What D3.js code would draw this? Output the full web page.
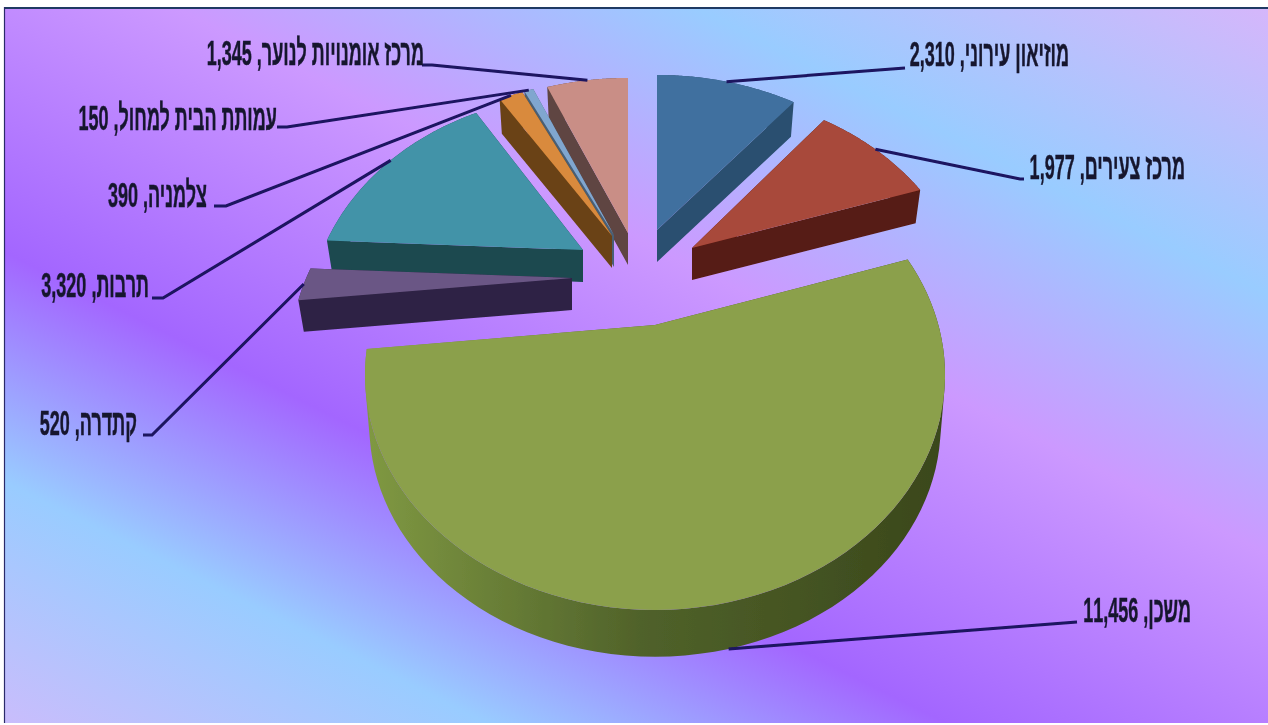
<!DOCTYPE html>
<html><head><meta charset="utf-8">
<script src="https://cdnjs.cloudflare.com/ajax/libs/d3/7.8.5/d3.min.js"></script>
<style>html,body{margin:0;padding:0;background:#fff;overflow:hidden}svg{display:block}</style>
</head><body><svg id="c" width="1268" height="725"></svg>
<script>
const categories=["מוזיאון עירוני","מרכז צעירים","משכן","קתדרה","תרבות","צלמניה","עמותת הבית למחול","מרכז אומנויות לנוער"];
const values=[2310,1977,11456,520,3320,390,150,1345];
const topColors=["#41709f","#a8483b","#8ba04b","#6b5785","#4393a8","#d98a3c","#80a6cf","#c98e86"];
const wallColors=["#2b4f70","#561a12","url(#greenWall)","#2e2245","#1b4850","#6b4216","#4a5e74","#5e4442"];
// how far each slice is pulled out of the pie, in px, and how much narrower it is drawn
const explodeX=[2,37,0,-83,-72,-43,-41,-27];
const explodeY=[-95,-77,0,-47,-75,-89,-90,-92];
const narrowX=[1,0.965,1,0.97,0.95,1,1,1];
// order slices are painted in (far to near)
const paintOrder=[7,0,6,5,1,4,3,2];
// label right edge, baseline, leader elbow
const labelRight=[1069,1185,1191,137,149,207,277,424];
const labelBase=[66,179,622,435,297,207,130,65];
const elbowX=[905,1020,1077,152,163,226,287,432];
const elbowY=[68,179,622,435,298,206,127,65];
const elbowEndX=[905,1024,1077,143,152,214,277,422];
// camera for the small exploded slices and for the large near slice
const farView={a:274,b:205.6,p:0.326,drop:32,shrink:0.98};
const nearView={a:283.4,b:224.4,p:0.2126,drop:51,shrink:0.985};
const viewOf=i=>i===2?nearView:farView;

const W=1268,H=725,cx=655,cy=325;
const svg=d3.select("#c");
const defs=svg.append("defs");
const nx=-0.447,ny=0.894,tmid=45,k=1.118,tA=-630,tB=720;
const gx=t=>634+nx*(t-tmid)/k, gy=t=>362+ny*(t-tmid)/k;
const bg=defs.append("linearGradient").attr("id","bg").attr("gradientUnits","userSpaceOnUse")
 .attr("x1",gx(tA)).attr("y1",gy(tA)).attr("x2",gx(tB)).attr("y2",gy(tB));
[[-630,"#d6b6fb"],[-340,"#99ccff"],[-80,"#cc99ff"],[250,"#a366ff"],[480,"#99ccff"],[720,"#c9bdfc"]]
 .forEach(([t,c])=>bg.append("stop").attr("offset",(t-tA)/(tB-tA)).attr("stop-color",c));
const gw=defs.append("linearGradient").attr("id","greenWall").attr("gradientUnits","userSpaceOnUse")
 .attr("x1",370).attr("y1",0).attr("x2",945).attr("y2",0);
gw.append("stop").attr("offset",0).attr("stop-color","#7f9842");
gw.append("stop").attr("offset",0.47).attr("stop-color","#50622a");
gw.append("stop").attr("offset",1).attr("stop-color","#3a471b");
const blur=defs.append("filter").attr("id","soft").attr("x","-5%").attr("y","-5%").attr("width","110%").attr("height","110%");
blur.append("feGaussianBlur").attr("stdDeviation",0.6);

svg.append("rect").attr("x",4).attr("y",7).attr("width",W-4).attr("height",H-9).attr("fill","url(#bg)");
svg.append("line").attr("x1",4).attr("x2",W).attr("y1",8).attr("y2",8).attr("stroke","#1f3a63").attr("stroke-width",2);
svg.append("line").attr("x1",4.5).attr("x2",4.5).attr("y1",7).attr("y2",H-2).attr("stroke","#2a2a6a").attr("stroke-width",1.2);

const arcs=d3.pie().sort(null).value(d=>d)(values);
function project(theta,i){
  const w=viewOf(i),u=Math.sin(theta),v=-Math.cos(theta),den=1-w.p*v;
  return [w.a*u/den*narrowX[i],w.b*v/den];
}
const toTop=(p,i)=>[cx+explodeX[i]+p[0],cy+explodeY[i]+p[1]];
const toBot=(p,i)=>{const w=viewOf(i);return [cx+explodeX[i]+p[0]*w.shrink,cy+explodeY[i]+w.drop+p[1]*w.shrink];};
const line=d3.line();
const root=svg.append("g").attr("filter","url(#soft)");

paintOrder.forEach(i=>{
  const a=arcs[i];
  const ang=d3.range(0,81).map(j=>a.startAngle+(a.endAngle-a.startAngle)*j/80);
  const outline=[[0,0],...ang.map(t=>project(t,i))];
  const g=root.append("g");
  // the side wall: one path, every quad wound the same way so they merge without seams
  const quads=outline.map((p,j)=>{
    const q=outline[(j+1)%outline.length];
    const poly=[toTop(p,i),toTop(q,i),toBot(q,i),toBot(p,i)];
    if(d3.polygonArea(poly)<0)poly.reverse();
    return line(poly)+"Z";
  }).join("");
  g.append("path").attr("d",quads).attr("fill",wallColors[i]).attr("fill-rule","nonzero");
  g.append("path").attr("d",line(outline.map(p=>toTop(p,i)))+"Z").attr("fill",topColors[i]);
});

values.forEach((val,i)=>{
  const a=arcs[i],mid=(a.startAngle+a.endAngle)/2,p=project(mid,i);
  const s=i===2?toBot(p,i):toTop(p,i);
  root.append("path").attr("fill","none").attr("stroke","#1c1260").attr("stroke-width",3)
   .attr("d",line([s,[elbowX[i],elbowY[i]],[elbowEndX[i],elbowY[i]]]));
  root.append("text").attr("transform",`translate(${labelRight[i]},${labelBase[i]}) scale(0.5,1)`)
   .attr("direction","rtl").attr("text-anchor","start")
   .attr("font-family","'Liberation Sans',Arial,sans-serif").attr("font-weight","bold")
   .attr("font-size",36).attr("fill","#16162e").attr("stroke","#16162e").attr("stroke-width",0.5)
   .text(categories[i]+", "+d3.format(",")(val));
});
</script></body></html>
